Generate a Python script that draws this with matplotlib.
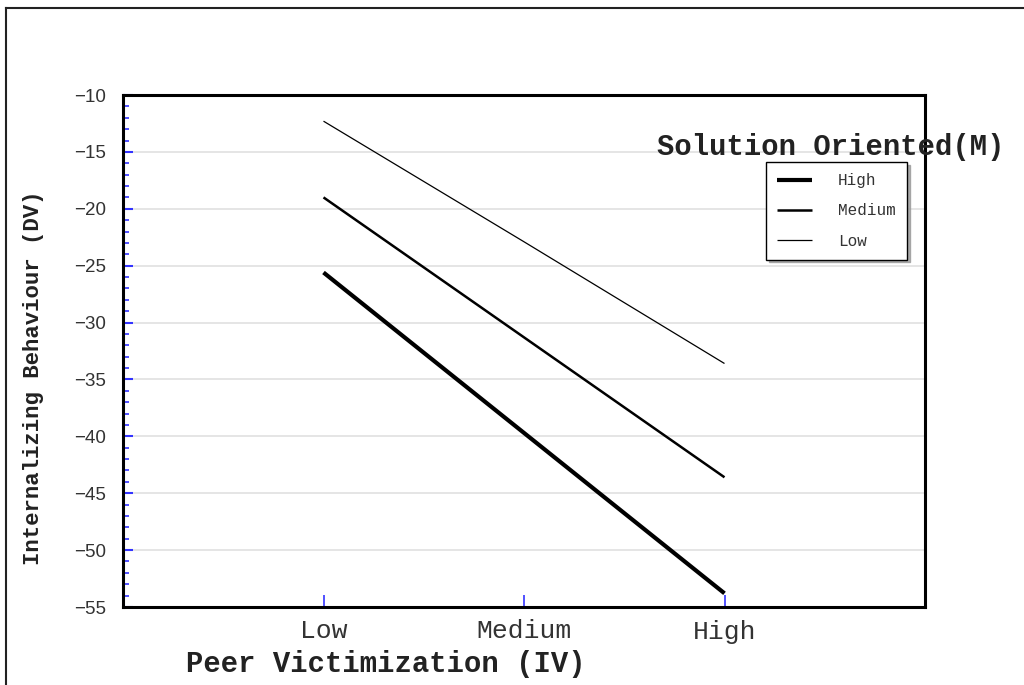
import matplotlib
matplotlib.use("Agg")
import matplotlib.pyplot as plt
from matplotlib.lines import Line2D
from matplotlib.ticker import MultipleLocator

categories = ["Low", "Medium", "High"]
series_names = ["High", "Medium", "Low"]
high_vals = [-25.6, -39.7, -53.8]
medium_vals = [-19.0, -31.3, -43.6]
low_vals = [-12.3, -22.9, -33.6]
yticks = [-10, -15, -20, -25, -30, -35, -40, -45, -50, -55]

series = [high_vals, medium_vals, low_vals]
widths = [3.0, 1.8, 0.9]

fig = plt.figure(figsize=(10.24, 6.85), dpi=100)
ax = fig.add_axes([123/1024, 1-607/685, (925-123)/1024, (607-95)/685])

ax.grid(axis="y", color="#e0e0e0", lw=1.2, zorder=0)
ax.set_axisbelow(True)

xs = list(range(len(categories)))
handles = []
for name, vals, w in zip(series_names, series, widths):
    ln, = ax.plot(xs, vals, color="black", lw=w, solid_capstyle="butt", label=name, zorder=3)
    handles.append(ln)

ax.set_xlim(-1, len(categories))
ax.set_ylim(-55, -10)
ax.set_xticks(xs)
ax.set_xticklabels(categories, fontfamily="Liberation Mono", fontsize=19, color="#333333")
ax.set_yticks(yticks)
ax.set_yticklabels([str(v).replace("-", "\u2212") for v in yticks], fontfamily="Liberation Sans", fontsize=13.5, color="#333333")
ax.yaxis.set_minor_locator(MultipleLocator(1))

ax.tick_params(axis="y", which="major", direction="in", length=7, width=1.5, color="#3333ff", pad=12)
ax.tick_params(axis="y", which="minor", direction="in", length=4, width=1.2, color="#3333ff")
ax.tick_params(axis="x", which="major", direction="in", length=9, width=1.2, color="#3333ff", pad=9)
ax.tick_params(axis="x", which="minor", length=0)

for s in ax.spines.values():
    s.set_linewidth(2.2)
    s.set_color("black")

fig.text(186/1024, 1-664/685, "Peer Victimization (IV)", fontfamily="Liberation Mono", fontweight="bold",
         fontsize=20.8, color="#222222", ha="left", va="center")
fig.text(34/1024, 1-378/685, "Internalizing Behaviour (DV)", fontfamily="Liberation Mono", fontweight="bold",
         fontsize=16.1, color="#222222", ha="center", va="center", rotation=90)

leg = fig.legend(handles=handles, labels=series_names, loc="upper left",
                 bbox_to_anchor=(766/1024, 1-162/685), bbox_transform=fig.transFigure,
                 prop={"family": "Liberation Mono", "size": 11.5}, frameon=True, fancybox=False,
                 shadow={"color": "#999999", "alpha": 0.8}, edgecolor="black", framealpha=1,
                 handlelength=2.2, handletextpad=1.6, labelspacing=0.95, borderpad=0.7,
                 borderaxespad=0)
for t in leg.get_texts():
    t.set_color("#333333")
leg.get_frame().set_linewidth(1.0)

fig.text(657/1024, 1-147/685, "Solution Oriented(M)", fontfamily="Liberation Mono",
         fontweight="bold", fontsize=20.8, color="#222222", va="center", ha="left")

# outer frame lines (top and left)
fig.add_artist(Line2D([6/1024, 1], [1-8/685, 1-8/685], transform=fig.transFigure, color="#222222", lw=1.5))
fig.add_artist(Line2D([6/1024, 6/1024], [0, 1-8/685], transform=fig.transFigure, color="#222222", lw=1.5))

fig.savefig("out.png", dpi=100)
